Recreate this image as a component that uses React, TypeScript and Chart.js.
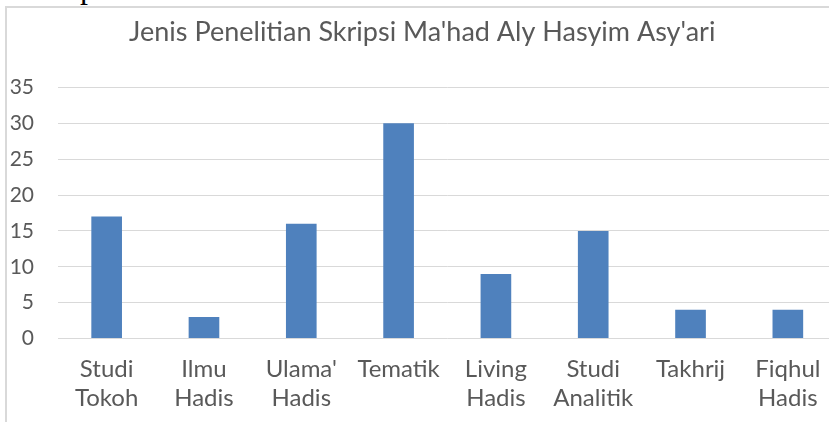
import React, { useEffect, useRef } from "react";
import { Chart, registerables } from "chart.js";

Chart.register(...registerables);

const titleText = "Jenis Penelitian Skripsi Ma'had Aly Hasyim Asy'ari";
const categories: string[][] = [
  ["Studi", "Tokoh"],
  ["Ilmu", "Hadis"],
  ["Ulama'", "Hadis"],
  ["Tematik"],
  ["Living", "Hadis"],
  ["Studi", "Analitik"],
  ["Takhrij"],
  ["Fiqhul", "Hadis"],
];
const values = [17, 3, 16, 30, 9, 15, 4, 4];
const yMin = 0;
const yMax = 35;
const yStep = 5;

const FONT = "Lato, 'Open Sans', sans-serif";
const TEXT = "#595959";
const GRID = "#d9d9d9";
const BAR = "#4f81bd";

export default function App() {
  const ref = useRef<HTMLCanvasElement | null>(null);

  useEffect(() => {
    if (!ref.current) return;
    const chart = new Chart(ref.current, {
      type: "bar",
      data: {
        labels: categories,
        datasets: [
          {
            data: values,
            backgroundColor: BAR,
            borderWidth: 0,
            barPercentage: 0.315,
            categoryPercentage: 1,
          },
        ],
      },
      options: {
        responsive: false,
        animation: false,
        layout: { padding: { left: 8, right: 33.5, top: 0, bottom: 0 } },
        plugins: {
          legend: { display: false },
          tooltip: { enabled: false },
          title: {
            display: true,
            text: titleText,
            color: TEXT,
            font: { family: FONT, size: 27, weight: "normal", lineHeight: 1.2 },
            padding: { top: 16.3, bottom: 38.8 },
          },
        },
        scales: {
          x: {
            afterFit: (s: any) => {
              s.height = 83.5;
            },
            grid: { display: false, drawTicks: false },
            border: { display: false },
            ticks: {
              color: TEXT,
              font: { family: FONT, size: 24, lineHeight: 1.22 },
              padding: 16,
              maxRotation: 0,
              autoSkip: false,
            },
          },
          y: {
            min: yMin,
            max: yMax,
            afterFit: (s: any) => {
              s.width = 50;
            },
            grid: { color: GRID, lineWidth: 1, drawTicks: false },
            border: { display: false },
            ticks: {
              stepSize: yStep,
              color: TEXT,
              font: { family: FONT, size: 21 },
              padding: 24,
            },
          },
        },
      },
    });
    return () => chart.destroy();
  }, []);

  return (
    <div
      style={{
        position: "fixed",
        left: 0,
        top: 0,
        width: 829,
        height: 422,
        overflow: "hidden",
        background: "#fff",
      }}
    >
      <div
        style={{
          position: "absolute",
          left: 80,
          top: -29,
          fontFamily: "'Liberation Serif', serif",
          fontSize: 32,
          lineHeight: 1,
          color: "#000",
        }}
      >
        p
      </div>
      <div
        style={{
          position: "absolute",
          left: 5,
          top: 6,
          width: 900,
          height: 500,
          border: `2px solid ${GRID}`,
          boxSizing: "border-box",
          background: "#fff",
        }}
      />
      <canvas
        ref={ref}
        width={870}
        height={422}
        style={{ position: "absolute", left: 0, top: 0, width: 870, height: 422 }}
      />
    </div>
  );
}
